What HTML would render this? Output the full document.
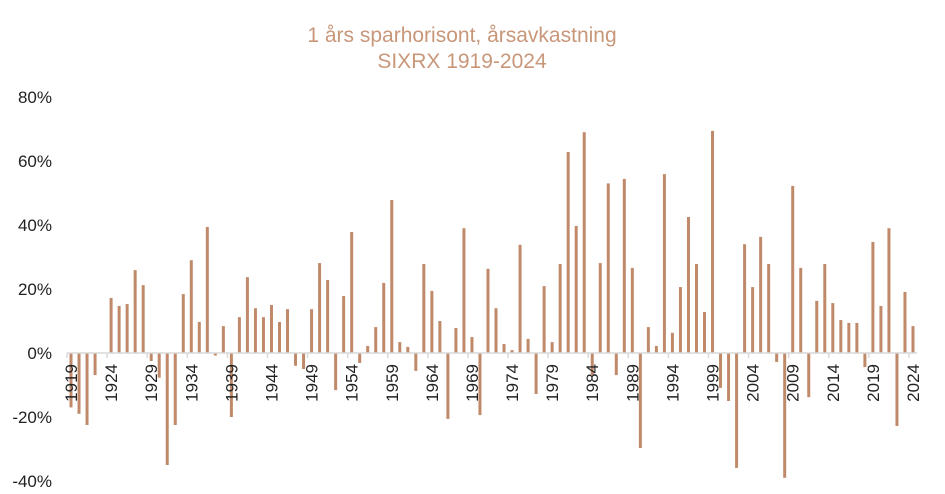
<!DOCTYPE html>
<html><head><meta charset="utf-8"><style>
body{margin:0;background:#fff;font-family:"Liberation Sans",sans-serif}
svg{display:block}
</style></head><body>
<svg id="chart" width="945" height="494" viewBox="0 0 945 494">
<text x="462" y="42" text-anchor="middle" font-size="21" fill="#c8977a">1 års sparhorisont, årsavkastning</text>
<text x="462" y="68" text-anchor="middle" font-size="21" fill="#c8977a">SIXRX 1919-2024</text>
<g id="yaxis"></g>
<g id="bars"></g>
<line x1="67" y1="353" x2="917" y2="353" stroke="#d9d9d9" stroke-width="1.5"/>
<g id="xaxis"></g>
</svg>
<script>
const startYear = 1919;
const values = [-17,-19,-22.5,-6.9,0,17.2,14.7,15.3,25.9,21.2,
-2.5,-7.7,-35,-22.5,18.4,29,9.7,39.4,-0.8,8.4,
-20,11.2,23.7,14,11.2,15,9.7,13.7,-4,-5,
13.7,28.1,22.8,-11.6,17.8,37.8,-3.1,2.2,8.1,21.9,
47.8,3.4,1.9,-5.6,27.8,19.4,10,-20.6,7.8,39,
5,-19.4,26.3,14,2.8,0.9,33.8,4.4,-12.8,20.9,
3.4,27.8,62.8,39.7,69,-7,28.1,53,-6.9,54.4,
26.6,-29.7,8.1,2.2,55.9,6.3,20.6,42.5,27.8,12.8,
69.4,-10.9,-15,-35.9,34,20.6,36.3,27.8,-2.8,-39,
52.2,26.6,-13.8,16.3,27.8,15.6,10.3,9.4,9.4,-4.4,
34.7,14.7,39,-22.8,19.1,8.4];
const yTicks = [-40,-20,0,20,40,60,80];
const NS = "http://www.w3.org/2000/svg";
const x0 = 67, x1 = 917, band = (x1 - x0) / values.length;
function y(v){ return 353 - v * 3.2; }
function xc(i){ return x0 + (i + 0.5) * band; }
const ya = document.getElementById('yaxis');
yTicks.forEach(t => {
  const tx = document.createElementNS(NS, 'text');
  
  
  tx.setAttribute('x', 52); tx.setAttribute('y', y(t) + 6);
  tx.setAttribute('text-anchor', 'end'); tx.setAttribute('font-size', '17'); tx.setAttribute('fill', '#222');
  tx.textContent = t + '%';
  ya.appendChild(tx);
});
const bg = document.getElementById('bars');
values.forEach((v, i) => {
  const r = document.createElementNS(NS, 'rect');
  
  
  r.setAttribute('x', xc(i) - 1.5); r.setAttribute('width', 3);
  r.setAttribute('y', Math.min(y(v), y(0))); r.setAttribute('height', Math.abs(y(v) - y(0)));
  r.setAttribute('fill', '#c08a6a');
  bg.appendChild(r);
});
const xa = document.getElementById('xaxis');
for (let i = 0; i < values.length; i += 5) {
  const tk = document.createElementNS(NS, 'line');
  
  
  const tx0 = x0 + i * band;
  tk.setAttribute('x1', tx0); tk.setAttribute('x2', tx0); tk.setAttribute('y1', 353); tk.setAttribute('y2', 358);
  tk.setAttribute('stroke', '#d9d9d9'); tk.setAttribute('stroke-width', '1.5');
  xa.appendChild(tk);
  const lb = document.createElementNS(NS, 'text');
  
  
  const cx = xc(i) + 6, cy = 364;
  lb.setAttribute('x', cx); lb.setAttribute('y', cy);
  lb.setAttribute('transform', 'rotate(-90 ' + cx + ' ' + cy + ')');
  lb.setAttribute('text-anchor', 'end'); lb.setAttribute('font-size', '17'); lb.setAttribute('fill', '#222');
  lb.textContent = startYear + i;
  xa.appendChild(lb);
}
</script>
</body></html>
